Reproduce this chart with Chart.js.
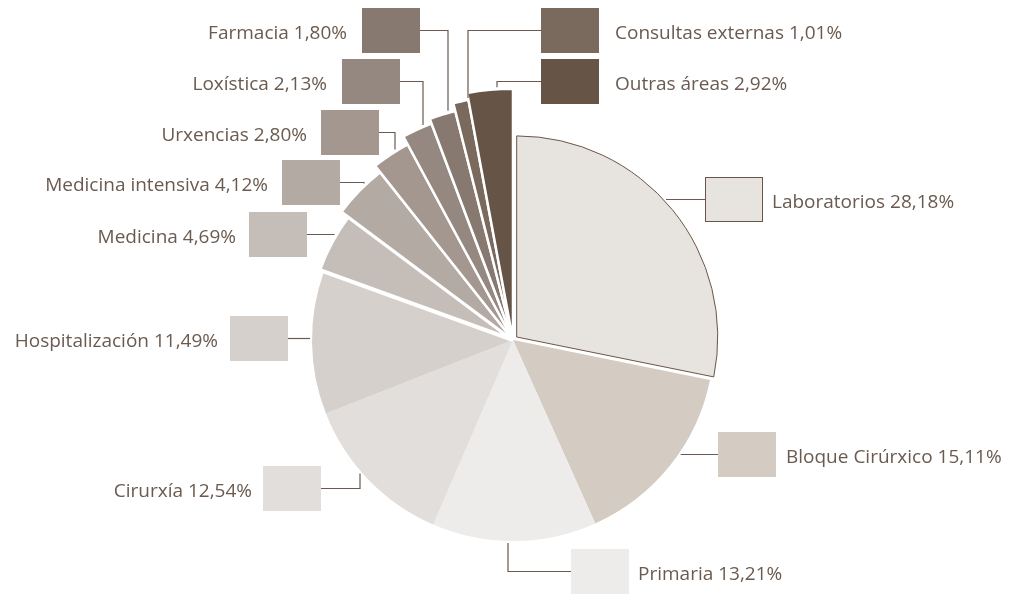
<!DOCTYPE html>
<html>
<head>
<meta charset="utf-8">
<script src="https://cdn.jsdelivr.net/npm/chart.js@4/dist/chart.umd.min.js"></script>
<style>
  html, body { margin: 0; padding: 0; background: #fff; }
  #wrap { width: 1012px; height: 594px; position: relative; }
</style>
</head>
<body>
<div id="wrap"><canvas id="chart"></canvas></div>
<script>
  // cost share by area, clockwise from 12 o'clock
  const AREAS = [
    "Laboratorios", "Bloque Cirúrxico", "Primaria", "Cirurxía", "Hospitalización", "Medicina",
    "Medicina intensiva", "Urxencias", "Loxística", "Farmacia", "Consultas externas", "Outras áreas"
  ];
  const SHARES = [28.18, 15.11, 13.21, 12.54, 11.49, 4.69, 4.12, 2.80, 2.13, 1.80, 1.01, 2.92];
  const COLORS = [
    "#e7e3df", "#d4cbc2", "#eeecea", "#e1dedb", "#d5d0cc", "#c5bdb8",
    "#b3aaa4", "#a3978f", "#958880", "#877970", "#7a6a5d", "#665446"
  ];

  const TEXT_COLOR = "#6b5a4f";
  const BASE_RADIUS = 201;
  // small slices fan outward a little more each step
  const RADIUS_SCALE = [1, 1, 1, 1, 1, 1.025, 1.065, 1.105, 1.15, 1.175, 1.215, 1.25];
  const BOX_W = 58, BOX_H = 45;

  // callout boxes: top-left corner, leader elbow x (null = straight), text gap
  const CALLOUTS = [
    { x: 705, y: 177, elbow: null, gap: 9, outlined: true },
    { x: 718, y: 432, elbow: null, gap: 10 },
    { x: 571, y: 549, elbow: 508, gap: 9 },
    { x: 263, y: 466, elbow: 360, gap: 11 },
    { x: 230, y: 316, elbow: null, gap: 12 },
    { x: 249, y: 212, elbow: 334, gap: 13 },
    { x: 282, y: 160, elbow: 364, gap: 14 },
    { x: 321, y: 110, elbow: 395, gap: 14 },
    { x: 342, y: 59, elbow: 423, gap: 15 },
    { x: 362, y: 8, elbow: 448, gap: 15 },
    { x: 541, y: 8, elbow: 468, gap: 16 },
    { x: 541, y: 59, elbow: 497, gap: 16 }
  ];

  function formatShare(value) {
    return value.toFixed(2).replace(".", ",") + "%";
  }

  const fanPlugin = {
    id: "fan",
    afterDatasetsUpdate(chart) {
      chart.getDatasetMeta(0).data.forEach((arc, i) => {
        arc.outerRadius = BASE_RADIUS * RADIUS_SCALE[i];
      });
    }
  };

  const calloutPlugin = {
    id: "callouts",
    afterDraw(chart) {
      const ctx = chart.ctx;
      const arcs = chart.getDatasetMeta(0).data;
      ctx.save();
      ctx.font = "19px 'Open Sans'";
      ctx.textBaseline = "alphabetic";

      CALLOUTS.forEach((box, i) => {
        const arc = arcs[i];
        const half = (arc.startAngle + arc.endAngle) / 2;
        const shift = (arc.options.offset || 0) / 4;
        const cx = arc.x + Math.cos(half) * shift;
        const cy = arc.y + Math.sin(half) * shift;
        const r = arc.outerRadius + 2;
        const midY = box.y + BOX_H / 2;
        const rightOfPie = box.x > cx;

        // leader
        ctx.strokeStyle = TEXT_COLOR;
        ctx.lineWidth = 1.2;
        ctx.beginPath();
        if (box.elbow === null) {
          const dx = Math.sqrt(r * r - (midY - cy) ** 2);
          const startX = rightOfPie ? box.x : box.x + BOX_W;
          ctx.moveTo(startX, midY);
          ctx.lineTo(rightOfPie ? cx + dx : cx - dx, midY);
        } else {
          const dy = Math.sqrt(r * r - (box.elbow - cx) ** 2);
          const startX = box.x > box.elbow ? box.x : box.x + BOX_W;
          ctx.moveTo(startX, midY);
          ctx.lineTo(box.elbow, midY);
          ctx.lineTo(box.elbow, midY < cy ? cy - dy : cy + dy);
        }
        ctx.stroke();

        // swatch
        ctx.fillStyle = COLORS[i];
        ctx.fillRect(box.x, box.y, BOX_W, BOX_H);
        if (box.outlined) {
          ctx.strokeStyle = "#6b5548";
          ctx.lineWidth = 1;
          ctx.strokeRect(box.x + 0.5, box.y + 0.5, BOX_W - 1, BOX_H - 1);
        }

        // label
        const label = `${AREAS[i]} ${formatShare(SHARES[i])}`;
        ctx.fillStyle = TEXT_COLOR;
        if (rightOfPie) {
          ctx.textAlign = "left";
          ctx.fillText(label, box.x + BOX_W + box.gap, midY + 8);
        } else {
          ctx.textAlign = "right";
          ctx.fillText(label, box.x - box.gap, midY + 8);
        }
      });
      ctx.restore();
    }
  };

  new Chart(document.getElementById("chart"), {
    type: "pie",
    data: {
      labels: AREAS,
      datasets: [{
        data: SHARES,
        backgroundColor: COLORS,
        borderColor: SHARES.map((v, i) => i === 0 ? "#6b5548" : "#ffffff"),
        borderWidth: SHARES.map((v, i) => i === 0 ? 1 : (i === 5 ? 4 : (i > 5 ? 2.5 : 0))),
        offset: SHARES.map((v, i) => i === 0 ? 19 : 0)
      }]
    },
    options: {
      responsive: true,
      maintainAspectRatio: false,
      animation: false,
      events: [],
      radius: BASE_RADIUS,
      layout: { padding: { left: 14, right: 0, top: 86, bottom: 0 } },
      plugins: {
        legend: { display: false },
        tooltip: { enabled: false }
      }
    },
    plugins: [fanPlugin, calloutPlugin]
  });
</script>
</body>
</html>
